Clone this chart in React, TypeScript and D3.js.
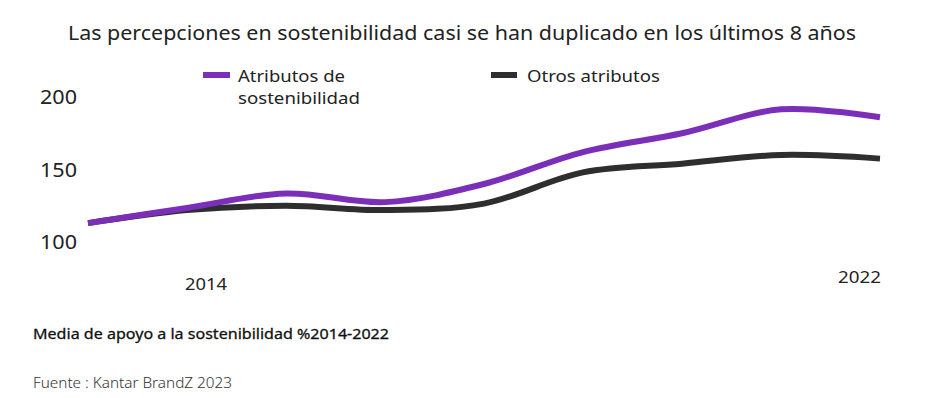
import React from "react";
import * as d3 from "d3";

const years = ["2014", "2015", "2016", "2017", "2018", "2019", "2020", "2021", "2022"];
const sostenibilidad = [113, 123.5, 133.5, 127.5, 140, 162, 175, 191.5, 186];
const otros = [113, 122, 125, 122, 126.5, 148, 154, 160, 157.5];
const yTicks = [100, 150, 200];
const xTickLabels = ["2014", "2022"];
const seriesNames = ["Atributos de sostenibilidad", "Otros atributos"];

const W = 936;
const H = 398;
const FONT = "'Noto Sans', 'DejaVu Sans', sans-serif";
const PURPLE = "#7b2fb8";
const DARK = "#2e2e2e";

export default function App() {
  const x = d3.scalePoint<string>().domain(years).range([88, 880]);
  const y = d3.scaleLinear().domain([100, 200]).range([242, 97]);
  const line = d3
    .line<number>()
    .x((_, i) => x(years[i]) as number)
    .y((d) => y(d))
    .curve(d3.curveCatmullRom.alpha(0.5));

  return (
    <svg
      width={W}
      height={H}
      style={{ position: "absolute", left: 0, top: 0, background: "#fff" }}
      fontFamily={FONT}
    >
      <text x={68} y={33} dominantBaseline="central" fontSize={19} fill="#222" textLength={788} lengthAdjust="spacingAndGlyphs">
        Las percepciones  en sostenibilidad casi se han duplicado  en los últimos 8 años
      </text>

      {/* legend */}
      <line x1={203} x2={230} y1={75} y2={75} stroke={PURPLE} strokeWidth={6} />
      <text x={238} y={75} dominantBaseline="central" fontSize={17} fill="#222" textLength={107} lengthAdjust="spacingAndGlyphs">
        Atributos de
      </text>
      <text x={238} y={97} dominantBaseline="central" fontSize={17} fill="#222" textLength={122} lengthAdjust="spacingAndGlyphs">
        sostenibilidad
      </text>
      <line x1={491} x2={517} y1={75} y2={75} stroke={DARK} strokeWidth={6} />
      <text x={527} y={75} dominantBaseline="central" fontSize={17} fill="#222" textLength={133} lengthAdjust="spacingAndGlyphs">
        {seriesNames[1]}
      </text>

      {/* y axis labels */}
      {yTicks.map((t) => (
        <text key={t} x={40} y={y(t)} dominantBaseline="central" fontSize={19} fill="#222" textLength={37} lengthAdjust="spacingAndGlyphs">
          {t}
        </text>
      ))}

      {/* x labels */}
      <text x={(x(years[0]) as number) + 97} y={283} dominantBaseline="central" fontSize={17} fill="#222" textLength={42} lengthAdjust="spacingAndGlyphs">
        {xTickLabels[0]}
      </text>
      <text x={(x(years[8]) as number) - 42} y={276} dominantBaseline="central" fontSize={17} fill="#222" textLength={43} lengthAdjust="spacingAndGlyphs">
        {xTickLabels[1]}
      </text>

      {/* lines */}
      <path d={line(otros) || ""} fill="none" stroke={DARK} strokeWidth={6} />
      <path d={line(sostenibilidad) || ""} fill="none" stroke={PURPLE} strokeWidth={6} />

      <text x={33} y={333} dominantBaseline="central" fontSize={15} fontWeight={400} fill="#111" stroke="#111" strokeWidth={0.3} textLength={356} lengthAdjust="spacingAndGlyphs">
        Media de apoyo a la sostenibilidad %2014-2022
      </text>
      <text x={33} y={382} dominantBaseline="central" fontSize={14} fontWeight={300} fill="#333" textLength={199} lengthAdjust="spacingAndGlyphs">
        Fuente : Kantar BrandZ 2023
      </text>
    </svg>
  );
}
